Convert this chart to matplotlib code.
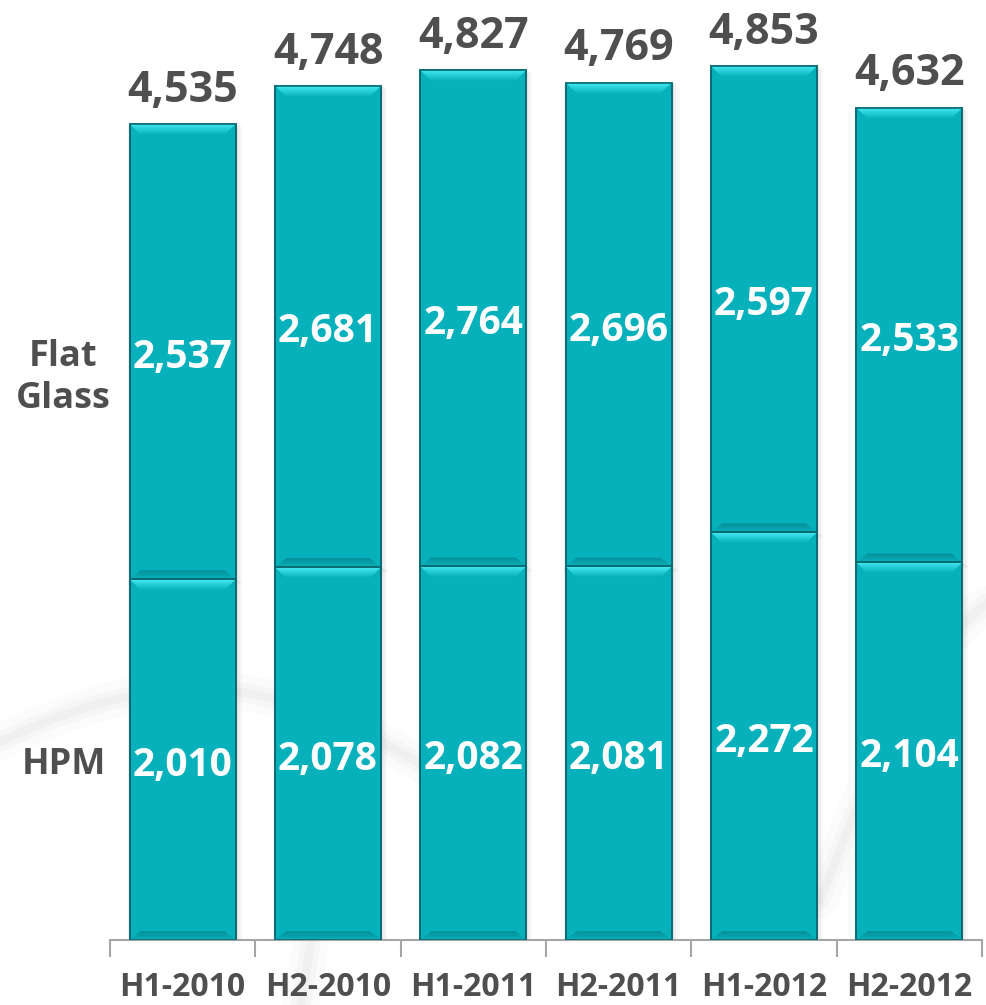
import numpy as np
import matplotlib
matplotlib.use("Agg")
import matplotlib.pyplot as plt
from matplotlib.patches import Polygon, Rectangle
from matplotlib.colors import LinearSegmentedColormap

# Half-year volumes by segment
categories = ["H1-2010", "H2-2010", "H1-2011", "H2-2011", "H1-2012", "H2-2012"]
hpm = [2010, 2078, 2082, 2081, 2272, 2104]
flat_glass = [2537, 2681, 2764, 2696, 2597, 2533]
totals = [4535, 4748, 4827, 4769, 4853, 4632]
row_labels = ["Flat\nGlass", "HPM"]

FONT = "Open Sans"
BAR = "#06B1BC"
EDGE = "#0A6B72"
TEXT_DARK = "#4F4F4F"

W, H, DPI = 987, 1005, 100
fig = plt.figure(figsize=(W / DPI, H / DPI), dpi=DPI)
fig.patch.set_facecolor("white")

# faint background swooshes
bg = fig.add_axes([0, 0, 1, 1], zorder=0)
bg.set_xlim(0, W)
bg.set_ylim(H, 0)
bg.axis("off")
t = np.linspace(0, 1, 200)
for lw, a in [(26, 0.035), (14, 0.045), (6, 0.06)]:
    bg.plot(-40 + 520 * t, 760 - 90 * np.sin(np.pi * t) + 40 * t, color="#9A9A9A", lw=lw, alpha=a, solid_capstyle="round")
    bg.plot(300 + 60 * t, 1010 - 380 * t, color="#9A9A9A", lw=lw, alpha=a, solid_capstyle="round")
    bg.plot(820 + 200 * t, 900 - 320 * t - 60 * np.sin(np.pi * t), color="#9A9A9A", lw=lw, alpha=a, solid_capstyle="round")

ax = fig.add_axes([110 / W, (H - 940) / H, 872 / W, 940 / H], zorder=1)
ax.patch.set_alpha(0)
px_per_unit = 0.1795
ax.set_xlim(-0.5, len(categories) - 0.5)
ax.set_ylim(0, 940 / px_per_unit)

width = 0.73
x = np.arange(len(categories))

bevel_cmap = LinearSegmentedColormap.from_list("bev", ["#48ECF4", BAR])
shade_cmap = LinearSegmentedColormap.from_list("shd", [BAR, "#078E97"])
bev_h = 11 / px_per_unit
bev_w = 11 / 145.3


def draw_segment(xc, y0, h):
    left, right = xc - width / 2, xc + width / 2
    # soft shadow
    for k, a in [(6, 0.04), (4, 0.05), (2, 0.07)]:
        dx = k / 145.3
        dy = k / px_per_unit
        ax.add_patch(Rectangle((left - dx * 0.3, y0 - dy), width + dx * 1.3, h + dy * 0.6,
                               facecolor="#555555", edgecolor="none", alpha=a, zorder=2))
    ax.add_patch(Rectangle((left, y0), width, h, facecolor=BAR, edgecolor=EDGE, lw=1.2, zorder=3))
    # darker band at the bottom of the segment
    grad = np.linspace(0, 1, 50).reshape(-1, 1)
    poly_b = Polygon([(left, y0), (right, y0), (right - bev_w, y0 + bev_h * 0.8),
                      (left + bev_w, y0 + bev_h * 0.8)], closed=True, facecolor="none", edgecolor="none")
    ax.add_patch(poly_b)
    im = ax.imshow(grad, extent=(left, right, y0 + bev_h * 0.8, y0), cmap=shade_cmap, aspect="auto",
                   origin="upper", zorder=4, interpolation="bilinear")
    im.set_clip_path(poly_b)
    # bright bevel at the top
    top = y0 + h
    poly_t = Polygon([(left, top), (right, top), (right - bev_w, top - bev_h),
                      (left + bev_w, top - bev_h)], closed=True, facecolor="none", edgecolor="none")
    ax.add_patch(poly_t)
    im2 = ax.imshow(grad, extent=(left, right, top - bev_h, top), cmap=bevel_cmap, aspect="auto",
                    origin="upper", zorder=4, interpolation="bilinear")
    im2.set_clip_path(poly_t)
    ax.add_patch(Rectangle((left, y0), width, h, facecolor="none", edgecolor=EDGE, lw=1.2, zorder=5))


for i in range(len(categories)):
    draw_segment(x[i], 0, hpm[i])
    draw_segment(x[i], hpm[i], flat_glass[i])
    ax.annotate(f"{hpm[i]:,}", (x[i], hpm[i] / 2), xytext=(0, -4), textcoords="offset points",
                ha="center", va="center", color="white",
                fontsize=28, fontweight="bold", family=FONT, zorder=6)
    ax.annotate(f"{flat_glass[i]:,}", (x[i], hpm[i] + flat_glass[i] / 2), xytext=(0, -4),
                textcoords="offset points", ha="center", va="center",
                color="white", fontsize=28, fontweight="bold", family=FONT, zorder=6)
    ax.annotate(f"{totals[i]:,}", (x[i], hpm[i] + flat_glass[i]), xytext=(0, 16),
                textcoords="offset points", ha="center", va="baseline", color=TEXT_DARK,
                fontsize=31, fontweight="bold", family=FONT, zorder=6)

for s in ["top", "right", "left"]:
    ax.spines[s].set_visible(False)
ax.spines["bottom"].set_color("#A6A6A6")
ax.spines["bottom"].set_linewidth(1.5)
ax.set_yticks([])
ax.set_xticks(np.arange(len(categories) + 1) - 0.5)
ax.set_xticklabels([])
ax.tick_params(axis="x", length=12, width=1.5, color="#A6A6A6", direction="out")
for i, c in enumerate(categories):
    ax.annotate(c, (x[i], 0), xytext=(0, -40), textcoords="offset points", ha="center", va="baseline",
                color=TEXT_DARK, fontsize=23, fontweight="bold", family=FONT, annotation_clip=False)

fig.text(63 / W, 1 - 378 / H, row_labels[0], ha="center", va="center", color=TEXT_DARK,
         fontsize=26, fontweight="bold", family=FONT, linespacing=1.2)
fig.text(64 / W, 1 - 765 / H, row_labels[1], ha="center", va="center", color=TEXT_DARK,
         fontsize=26, fontweight="bold", family=FONT)

fig.savefig("out.png", dpi=DPI)
